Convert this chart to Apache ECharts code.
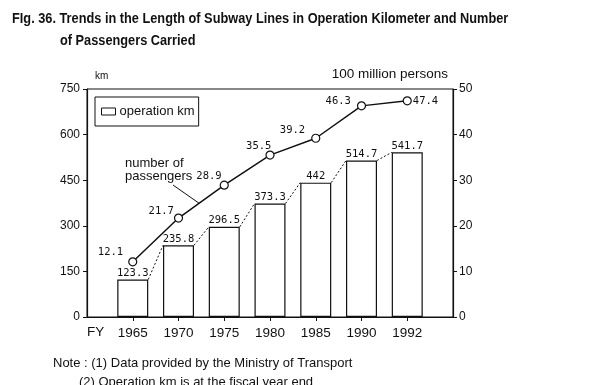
<!DOCTYPE html>
<html>
<head>
<meta charset="utf-8">
<script src="https://cdn.jsdelivr.net/npm/echarts@6/dist/echarts.min.js"></script>
<style>
html,body{margin:0;padding:0;background:#fff;}
#c{width:600px;height:385px;}
</style>
</head>
<body>
<div id="c"></div>
<script>
// ---- data ----
const years = ['1965', '1970', '1975', '1980', '1985', '1990', '1992'];
const operationKm = [123.3, 235.8, 296.5, 373.3, 442, 514.7, 541.7];
const passengers = [12.1, 21.7, 28.9, 35.5, 39.2, 46.3, 47.4];
const kmTicks = [0, 150, 300, 450, 600, 750];
const passengerTicks = [0, 10, 20, 30, 40, 50];

// ---- styles ----
const INK = '#111';
const SANS = '"Liberation Sans", Arial, sans-serif';
const MONO = '"DejaVu Sans Mono", monospace';
const BAR_W = 31;
// per-point label offsets for the passenger line (style only)
const lineLabelStyle = [
  {position: 'left', offset: [-5, -10]},
  {position: 'left', offset: [0, -7]},
  {position: 'left', offset: [2, -9]},
  {position: 'left', offset: [6, -9]},
  {position: 'left', offset: [-6, -8]},
  {position: 'left', offset: [-6, -5]},
  {position: 'right', offset: [1, 0]}
];

// category axis with one empty slot on each side
const xCats = [''].concat(years, ['']);
const barData = [null].concat(operationKm, [null]);
const lineData = [null].concat(passengers.map((v, i) => ({
  value: v,
  label: Object.assign({show: true, distance: 0}, lineLabelStyle[i])
})), [null]);
const connectorData = [];
for (let i = 0; i < operationKm.length - 1; i++) {
  connectorData.push([i + 1, operationKm[i], i + 2, operationKm[i + 1]]);
}

const chart = echarts.init(document.getElementById('c'), null, {renderer: 'canvas'});

const TITLE_FONT = 'bold 14.5px "Liberation Sans", Arial, sans-serif';
const option = {
  backgroundColor: '#fff',
  animation: false,
  textStyle: {fontFamily: SANS, color: INK},
  legend: {
    data: [{name: 'operation km', icon: 'rect'}],
    left: 95, top: 97,
    orient: 'horizontal',
    borderColor: INK, borderWidth: 1,
    padding: [8, 4, 8, 6],
    itemWidth: 14, itemHeight: 7, itemGap: 5,
    itemStyle: {color: '#fff', borderColor: INK, borderWidth: 1},
    textStyle: {fontFamily: SANS, fontSize: 13, color: INK, padding: [0, 0, 0, -1]},
    selectedMode: false
  },
  grid: {left: 87, right: 147, top: 89, bottom: 68, show: true, borderColor: INK, borderWidth: 1},
  xAxis: {
    type: 'category',
    data: xCats,
    boundaryGap: false,
    axisLine: {lineStyle: {color: INK, width: 1.2}},
    axisTick: {length: 4, lineStyle: {color: INK}, interval: (i) => i > 0 && i < xCats.length - 1},
    axisLabel: {color: INK, fontSize: 13.5, margin: 9, fontFamily: SANS, interval: 0},
    splitLine: {show: false}
  },
  yAxis: [
    {
      type: 'value', min: kmTicks[0], max: kmTicks[kmTicks.length - 1], interval: kmTicks[1] - kmTicks[0],
      name: 'km', nameLocation: 'end', nameGap: 8,
      nameTextStyle: {fontSize: 10, color: INK, align: 'left', padding: [0, 0, 0, 8]},
      axisLine: {show: true, lineStyle: {color: INK, width: 1.2}},
      axisTick: {show: true, length: 4, lineStyle: {color: INK}},
      axisLabel: {color: INK, fontSize: 12, margin: 7, fontFamily: SANS},
      splitLine: {show: false}
    },
    {
      type: 'value', min: passengerTicks[0], max: passengerTicks[passengerTicks.length - 1], interval: passengerTicks[1] - passengerTicks[0],
      position: 'right',
      name: '100 million persons', nameLocation: 'end', nameGap: 8,
      nameTextStyle: {fontSize: 13.5, color: INK, align: 'right', padding: [0, 5, 0, 0]},
      axisLine: {show: true, lineStyle: {color: INK, width: 1.2}},
      axisTick: {show: true, length: 4, lineStyle: {color: INK}},
      axisLabel: {color: INK, fontSize: 12, margin: 6, fontFamily: SANS},
      splitLine: {show: false}
    }
  ],
  series: [
    {
      name: 'operation km',
      type: 'bar',
      data: barData,
      barWidth: BAR_W,
      itemStyle: {color: '#fff', borderColor: INK, borderWidth: 1.2},
      label: {show: true, position: 'top', distance: 1, fontFamily: MONO, fontSize: 10.5, color: INK},
      z: 2
    },
    {
      name: 'connector',
      type: 'custom',
      data: connectorData,
      encode: {x: [0, 2], y: [1, 3]},
      silent: true,
      renderItem: function (params, api) {
        const p1 = api.coord([api.value(0), api.value(1)]);
        const p2 = api.coord([api.value(2), api.value(3)]);
        return {
          type: 'line',
          shape: {x1: p1[0] + BAR_W / 2, y1: p1[1], x2: p2[0] - BAR_W / 2, y2: p2[1]},
          style: {stroke: INK, lineWidth: 1, lineDash: [2, 2]}
        };
      },
      z: 3
    },
    {
      name: 'number of passengers',
      type: 'line',
      yAxisIndex: 1,
      data: lineData,
      connectNulls: false,
      symbol: 'circle',
      symbolSize: 8,
      itemStyle: {color: '#fff', borderColor: INK, borderWidth: 1.2},
      lineStyle: {color: INK, width: 1.5},
      label: {fontFamily: MONO, fontSize: 10.5, color: INK},
      z: 5
    }
  ],
  graphic: [
    {type: 'text', x: 12, y: 11, scaleX: 0.88, style: {text: 'FIg. 36. Trends in the Length of Subway Lines in Operation Kilometer and Number', font: TITLE_FONT, fill: INK}},
    {type: 'text', x: 60, y: 33, scaleX: 0.88, style: {text: 'of Passengers Carried', font: TITLE_FONT, fill: INK}},
    {type: 'text', left: 87, top: 325, style: {text: 'FY', font: '13.5px ' + SANS, fill: INK}},
    {type: 'text', left: 53, top: 357, style: {text: 'Note : (1) Data provided by the Ministry of Transport', font: '13px ' + SANS, fill: INK}},
    {type: 'text', left: 79, top: 376, style: {text: '(2) Operation km is at the fiscal year end', font: '13px ' + SANS, fill: INK}},
    {type: 'text', left: 125, top: 157, style: {text: 'number of\npassengers', font: '13px ' + SANS, fill: INK, lineHeight: 13}}
  ]
};
chart.setOption(option);

// leader line from the annotation to the passenger line
const a = chart.convertToPixel({xAxisIndex: 0, yAxisIndex: 1}, [2, passengers[1]]);
const b = chart.convertToPixel({xAxisIndex: 0, yAxisIndex: 1}, [3, passengers[2]]);
const t = 0.45;
const end = [a[0] + (b[0] - a[0]) * t, a[1] + (b[1] - a[1]) * t];
chart.setOption({
  graphic: option.graphic.concat([
    {type: 'line', shape: {x1: 173, y1: 185, x2: end[0], y2: end[1]}, style: {stroke: INK, lineWidth: 1}, z: 10}
  ])
});
</script>
</body>
</html>
